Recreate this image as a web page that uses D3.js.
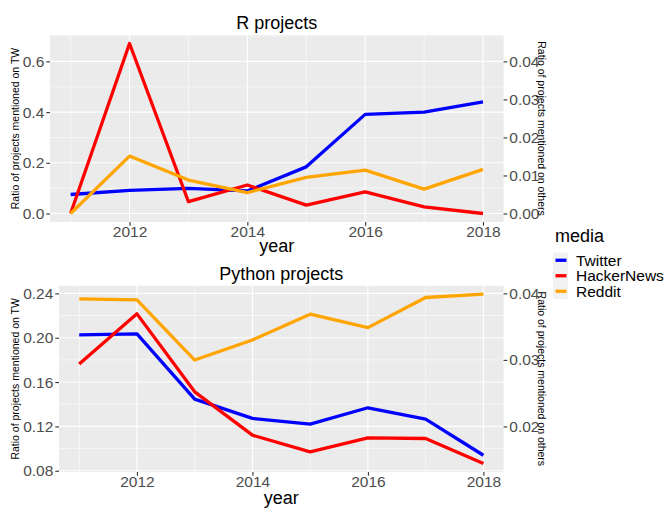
<!DOCTYPE html>
<html>
<head>
<meta charset="utf-8">
<script src="https://cdn.jsdelivr.net/npm/d3@7"></script>
<style>
  body { margin: 0; background: #fff; }
  svg text { font-family: "Liberation Sans", Arial, sans-serif; }
</style>
</head>
<body>
<div id="main"></div>
<script>
// data
const years = [2011, 2012, 2013, 2014, 2015, 2016, 2017, 2018];
const media = ["Twitter", "HackerNews", "Reddit"];
const mediaColors = ["#0000ff", "#ff0000", "#ffa500"];

// R projects: Twitter on the left axis, the others on the right axis
const rTwitter = [0.075, 0.091, 0.099, 0.089, 0.184, 0.391, 0.400, 0.440];
const rHackerNews = [0.0, 0.0447, 0.0031, 0.0075, 0.0022, 0.0057, 0.00175, 0.0];
const rReddit = [0.0, 0.0151, 0.0088, 0.0055, 0.0095, 0.0114, 0.0064, 0.0116];

// Python projects
const pyTwitter = [0.2025, 0.2034, 0.1446, 0.1272, 0.1220, 0.1368, 0.1266, 0.0940];
const pyHackerNews = [0.02938, 0.03692, 0.0252, 0.01868, 0.01617, 0.01828, 0.01818, 0.01442];
const pyReddit = [0.03918, 0.03903, 0.02998, 0.0330, 0.03687, 0.03485, 0.03938, 0.03988];

// tick labels
const xTicks = [2012, 2014, 2016, 2018];
const rLeftTicks = [0, 0.2, 0.4, 0.6];
const rRightTicks = [0, 0.01, 0.02, 0.03, 0.04];
const pyLeftTicks = [0.08, 0.12, 0.16, 0.20, 0.24];
const pyRightTicks = [0.02, 0.03, 0.04];

const ctx = {
    WIDTH: 667,
    HEIGHT: 508,
    PANEL_BG: "#ebebeb",
    TICK_TEXT: "#4d4d4d",
    TICK_LINE: "#333333",
    TICK_LEN: 3.7,
    TICK_FONT: 15.5,
};

function minorBreaks(major, domain) {
    const step = major[1] - major[0];
    const ext = [major[0] - step, ...major, major[major.length - 1] + step];
    let out = [];
    for (let i = 0; i < ext.length - 1; i++) {
        let m = (ext[i] + ext[i + 1]) / 2;
        if (m >= domain[0] && m <= domain[1]) out.push(m);
    }
    return out;
}

function drawPanel(svg, cfg) {
    const left = cfg.left, right = cfg.right, top = cfg.top, bottom = cfg.bottom;

    // x scale with ggplot's 5% expansion
    const xSpan = years[years.length - 1] - years[0];
    const xDomain = [years[0] - 0.05 * xSpan, years[years.length - 1] + 0.05 * xSpan];
    const x = d3.scaleLinear().domain(xDomain).range([left, right]);

    // all series in left-axis units
    const all = cfg.twitter.concat(cfg.hn.map(v => v * cfg.factor), cfg.reddit.map(v => v * cfg.factor));
    const lo = d3.min(all), hi = d3.max(all);
    const pad = (hi - lo) * 0.05;
    const yDomain = [lo - pad, hi + pad];
    const y = d3.scaleLinear().domain(yDomain).range([bottom, top]);
    const yRight = d3.scaleLinear().domain(yDomain.map(v => v / cfg.factor)).range([bottom, top]);

    const g = svg.append("g");

    g.append("rect")
        .attr("x", left).attr("y", top)
        .attr("width", right - left).attr("height", bottom - top)
        .attr("fill", ctx.PANEL_BG);

    // minor grid
    g.selectAll("line.minor-y")
        .data(minorBreaks(cfg.leftTicks, yDomain))
        .enter().append("line")
        .attr("x1", left).attr("x2", right)
        .attr("y1", d => y(d)).attr("y2", d => y(d))
        .attr("stroke", "#fff").attr("stroke-width", 0.55);
    g.selectAll("line.minor-x")
        .data(minorBreaks(xTicks, xDomain))
        .enter().append("line")
        .attr("y1", top).attr("y2", bottom)
        .attr("x1", d => x(d)).attr("x2", d => x(d))
        .attr("stroke", "#fff").attr("stroke-width", 0.55);

    // major grid
    g.selectAll("line.major-y")
        .data(cfg.leftTicks)
        .enter().append("line")
        .attr("x1", left).attr("x2", right)
        .attr("y1", d => y(d)).attr("y2", d => y(d))
        .attr("stroke", "#fff").attr("stroke-width", 1.1);
    g.selectAll("line.major-x")
        .data(xTicks)
        .enter().append("line")
        .attr("y1", top).attr("y2", bottom)
        .attr("x1", d => x(d)).attr("x2", d => x(d))
        .attr("stroke", "#fff").attr("stroke-width", 1.1);

    // series
    const series = [
        { name: "Twitter", values: cfg.twitter, scale: y },
        { name: "HackerNews", values: cfg.hn, scale: yRight },
        { name: "Reddit", values: cfg.reddit, scale: yRight },
    ];
    series.forEach((s, i) => {
        const line = d3.line()
            .x((d, j) => x(years[j]))
            .y(d => s.scale(d));
        g.append("path")
            .attr("d", line(s.values))
            .attr("fill", "none")
            .attr("stroke", mediaColors[i])
            .attr("stroke-width", 3.3)
            .attr("stroke-linejoin", "round");
    });

    // axes
    const styleAxis = sel => {
        sel.select(".domain").remove();
        sel.selectAll(".tick line").attr("stroke", ctx.TICK_LINE).attr("stroke-width", 1.1);
        sel.selectAll(".tick text")
            .attr("fill", ctx.TICK_TEXT)
            .style("font-size", ctx.TICK_FONT + "px");
    };

    svg.append("g")
        .attr("transform", `translate(${left},0)`)
        .call(d3.axisLeft(y).tickValues(cfg.leftTicks).tickFormat(d3.format(cfg.leftFormat))
            .tickSize(ctx.TICK_LEN).tickPadding(2))
        .call(styleAxis);

    svg.append("g")
        .attr("transform", `translate(${right},0)`)
        .call(d3.axisRight(yRight).tickValues(cfg.rightTicks).tickFormat(d3.format(".2f"))
            .tickSize(ctx.TICK_LEN).tickPadding(2))
        .call(styleAxis);

    svg.append("g")
        .attr("transform", `translate(0,${bottom})`)
        .call(d3.axisBottom(x).tickValues(xTicks).tickFormat(d3.format("d"))
            .tickSize(ctx.TICK_LEN).tickPadding(0))
        .call(styleAxis);

    // titles
    const cx = (left + right) / 2, cy = (top + bottom) / 2;
    svg.append("text")
        .attr("x", cx).attr("y", cfg.titleY)
        .attr("text-anchor", "middle")
        .style("font-size", "18px")
        .attr("fill", "#000")
        .text(cfg.title);

    svg.append("text")
        .attr("x", cx).attr("y", cfg.yearY)
        .attr("text-anchor", "middle")
        .style("font-size", "18px")
        .attr("fill", "#000")
        .text("year");

    svg.append("text")
        .attr("transform", `translate(15,${cy}) rotate(-90)`)
        .attr("text-anchor", "middle")
        .attr("dominant-baseline", "central")
        .style("font-size", "10.5px")
        .attr("fill", "#000")
        .text("Ratio of projects mentioned on TW");

    svg.append("text")
        .attr("transform", `translate(542,${cy}) rotate(90)`)
        .attr("text-anchor", "middle")
        .attr("dominant-baseline", "central")
        .style("font-size", "10.5px")
        .attr("fill", "#000")
        .text("Ratio of projects mentioned on others");
}

function drawLegend(svg) {
    const lg = svg.append("g");
    lg.append("text")
        .attr("x", 555).attr("y", 241.5)
        .style("font-size", "18px")
        .attr("fill", "#000")
        .text("media");

    const rowH = 15.5, y0 = 252.5;
    media.forEach((m, i) => {
        const ry = y0 + i * rowH;
        lg.append("rect")
            .attr("x", 553).attr("y", ry)
            .attr("width", 15).attr("height", rowH)
            .attr("fill", "#f2f2f2");
        lg.append("line")
            .attr("x1", 555.5).attr("x2", 566.5)
            .attr("y1", ry + rowH / 2).attr("y2", ry + rowH / 2)
            .attr("stroke", mediaColors[i])
            .attr("stroke-width", 3.3);
        lg.append("text")
            .attr("x", 576).attr("y", ry + rowH / 2)
            .attr("dominant-baseline", "central")
            .style("font-size", "15.5px")
            .attr("fill", "#000")
            .text(m);
    });
}

function createViz() {
    const svg = d3.select("#main").append("svg")
        .attr("width", ctx.WIDTH)
        .attr("height", ctx.HEIGHT);

    drawPanel(svg, {
        left: 50, right: 503.6, top: 35, bottom: 222,
        twitter: rTwitter, hn: rHackerNews, reddit: rReddit, factor: 15,
        leftTicks: rLeftTicks, rightTicks: rRightTicks, leftFormat: ".1f",
        title: "R projects", titleY: 29, yearY: 252,
    });

    drawPanel(svg, {
        left: 59, right: 503.6, top: 285.7, bottom: 472,
        twitter: pyTwitter, hn: pyHackerNews, reddit: pyReddit, factor: 6,
        leftTicks: pyLeftTicks, rightTicks: pyRightTicks, leftFormat: ".2f",
        title: "Python projects", titleY: 279.5, yearY: 504,
    });

    drawLegend(svg);
}

createViz();
</script>
</body>
</html>
